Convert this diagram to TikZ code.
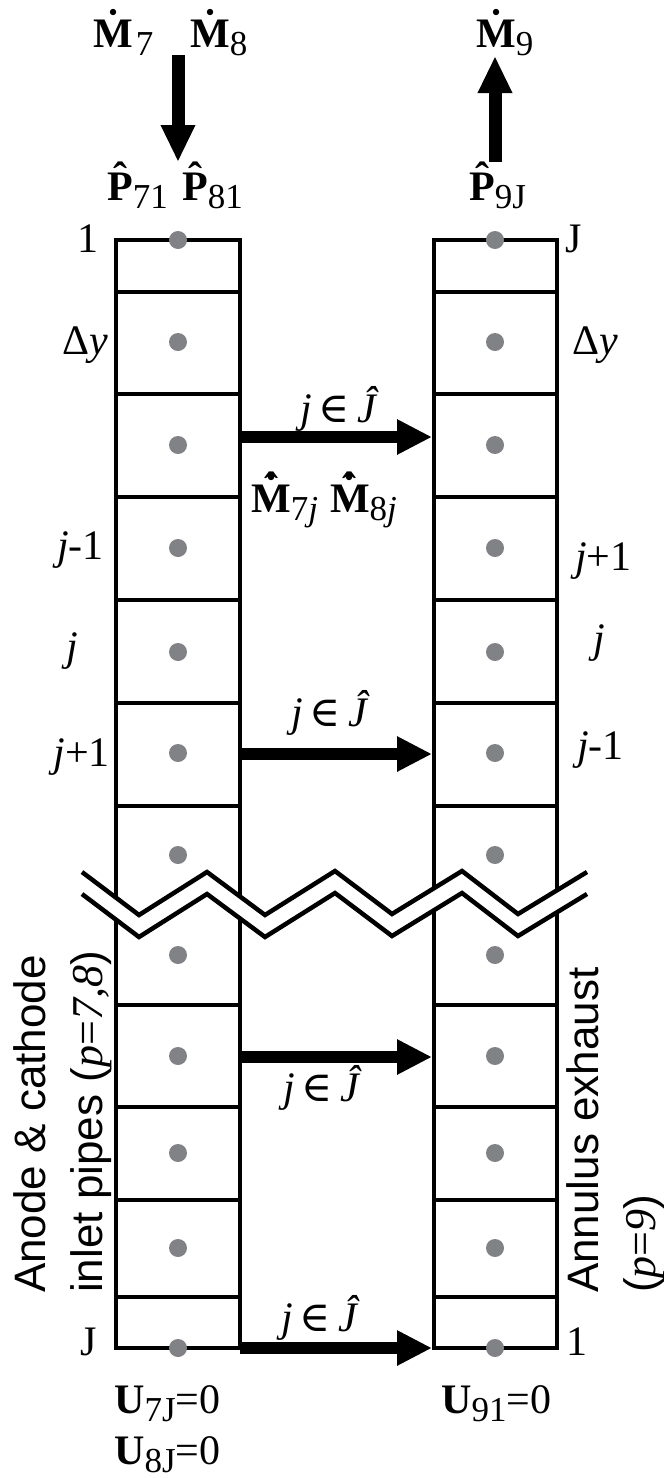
\documentclass[tikz,border=0pt]{standalone}
\usepackage{fontspec}
\setmainfont{Liberation Serif}
\newfontfamily\sansf{Liberation Sans}
\newfontfamily\symf{DejaVu Serif}
\usetikzlibrary{arrows.meta}
\definecolor{dotgray}{RGB}{128,130,133}
\newcommand\dotM{\accent"02D9 M}
\newcommand\hatP{\accent"02C6 P}
\newcommand\hdM{\leavevmode\hbox{\ooalign{\accent"02D9 M\cr\hidewidth\raisebox{0.26em}{\char"02C6}\hidewidth\cr}}}
\newcommand\subs[1]{\raisebox{-0.2em}{\fontsize{35}{35}\selectfont #1}}
\newcommand\jJ{{\itshape j}\,{\symf ∈}\,{\itshape Ĵ}}
\begin{document}
\begin{tikzpicture}[x=1pt,y=-1pt,
  cellline/.style={line width=4pt},
  flowh/.style={line width=12pt,-{Triangle[length=35pt,width=33pt]}},
  flowv/.style={line width=13pt,-{Triangle[length=37pt,width=32pt]}},
  pt/.style={circle,fill=dotgray,minimum size=18pt,inner sep=0pt},
  lab/.style={inner sep=0pt,font=\fontsize{42}{46}\selectfont},
  side/.style={inner sep=0pt,font=\sansf\fontsize{44}{57}\selectfont,rotate=90,align=left,anchor=north west}]
\useasboundingbox (0,0) rectangle (664,1478);
% columns
\draw[cellline] (116,240) rectangle (240,1348);
\draw[cellline] (434,240) rectangle (557,1348);
\foreach \yy in {292,394,497,600,703,806,1005,1107,1200,1297}{
  \draw[cellline] (116,\yy) -- (240,\yy);
  \draw[cellline] (434,\yy) -- (557,\yy);
}
% break
\fill[white] (82,872) -- (139,915) -- (207,872) -- (265,915) -- (335,871) -- (392,914) -- (462,871) -- (518,914) -- (587,872)
  -- (587,894) -- (518,936) -- (462,893) -- (392,936) -- (335,893) -- (265,937) -- (207,894) -- (139,937) -- (82,894) -- cycle;
\draw[line width=4.5pt] (82,872) -- (139,915) -- (207,872) -- (265,915) -- (335,871) -- (392,914) -- (462,871) -- (518,914) -- (587,872);
\draw[line width=4.5pt] (82,894) -- (139,937) -- (207,894) -- (265,937) -- (335,893) -- (392,936) -- (462,893) -- (518,936) -- (587,894);
% dots
\foreach \yy [count=\i] in {240,342,445,548,652,753,855,955,1056,1153,1248,1348}{
  \node[pt] (l\i) at (178,\yy) {};
  \node[pt] (r\i) at (495,\yy) {};
}
% transfer arrows
\foreach \yy [count=\i] in {437,754,1057,1348}{
  \coordinate (a\i) at (240,\yy);
  \coordinate (b\i) at (432,\yy);
  \draw[flowh] (a\i) -- (b\i);
}
% inlet / outlet arrows
\coordinate (inT) at (178,55);
\coordinate (inB) at (178,162);
\coordinate (outB) at (495,162);
\coordinate (outT) at (495,56);
\draw[flowv] (inT) -- (inB);
\draw[flowv] (outB) -- (outT);
% top labels
\node[lab,anchor=base west] (m7) at (93,47) {\textbf{\dotM}\hspace{3pt}\subs{7}};
\node[lab,anchor=base west] (m8) at (190,47) {\textbf{\dotM}\subs{8}};
\node[lab,anchor=base west] (m9) at (476,47) {\textbf{\dotM}\subs{9}};
\node[lab,anchor=base west] (p71) at (107,200) {\textbf{\hatP}\subs{71}};
\node[lab,anchor=base west] (p81) at (182,200) {\textbf{\hatP}\subs{81}};
\node[lab,anchor=base west] (p9J) at (469,200) {\textbf{\hatP}\subs{9J}};
% index labels
\node[lab,anchor=base east] (t1) at (99,252) {1};
\node[lab,anchor=base west] (tJ) at (565,252) {J};
\node[lab,anchor=base east] (dyl) at (108,354) {Δ{\itshape y}};
\node[lab,anchor=base west] (dyr) at (572,354) {Δ{\itshape y}};
\node[lab,anchor=base east] (jm1l) at (104,559) {{\itshape j}-1};
\node[lab,anchor=base east] (jl) at (78,660) {{\itshape j}};
\node[lab,anchor=base east] (jp1l) at (110,766) {{\itshape j}+1};
\node[lab,anchor=base west] (jp1r) at (575,570) {{\itshape j}+1};
\node[lab,anchor=base west] (jr) at (593,652) {{\itshape j}};
\node[lab,anchor=base west] (jm1r) at (577,759) {{\itshape j}-1};
\node[lab,anchor=base east] (bJ) at (97,1355) {J};
\node[lab,anchor=base west] (b1) at (566,1355) {1};
% transfer labels
\node[lab,anchor=base] (j1) at (338,422) {\jJ};
\node[lab,anchor=base west] (mm) at (251,512) {\textbf{\hdM}\subs{7{\itshape j}}\hspace{12pt}\textbf{\hdM}\subs{8{\itshape j}}};
\node[lab,anchor=base] (j2) at (329,726) {\jJ};
\node[lab,anchor=base] (j3) at (321,1101) {\jJ};
\node[lab,anchor=base] (j4) at (319,1331) {\jJ};
% bottom
\node[lab,anchor=base west] (u7) at (114,1413) {\textbf{U}\subs{7J}=0};
\node[lab,anchor=base west] (u8) at (114,1464) {\textbf{U}\subs{8J}=0};
\node[lab,anchor=base west] (u9) at (441,1413) {\textbf{U}\subs{91}=0};
% side texts
\node[side] (lt) at (13,1293) {Anode \& cathode\\inlet pipes ({\rmfamily\itshape p}{\rmfamily =}{\rmfamily\itshape 7,8})};
\node[side] (rt) at (566,1293) {Annulus exhaust\\({\rmfamily\itshape p}{\rmfamily =}{\rmfamily\itshape 9})};
\end{tikzpicture}
\end{document}
